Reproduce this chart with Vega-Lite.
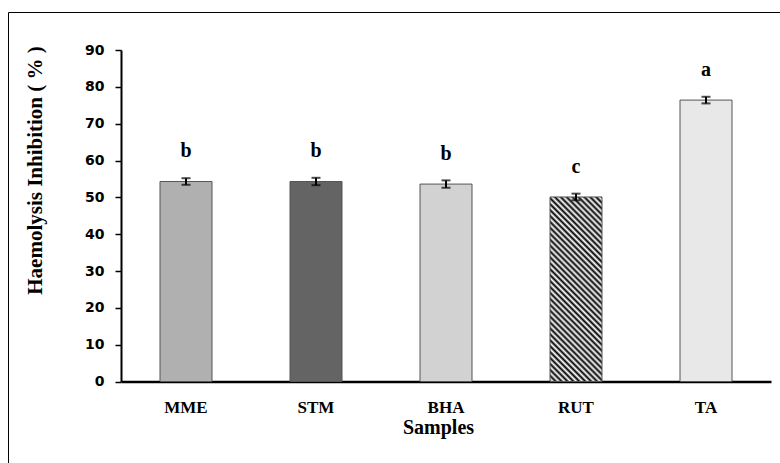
{
  "$schema": "https://vega.github.io/schema/vega-lite/v6.json",
  "width": 773,
  "height": 452,
  "autosize": {"type": "none"},
  "padding": {"left": 8, "top": 12, "right": -1, "bottom": -1},
  "background": "white",
  "config": {"view": {"stroke": "black", "strokeWidth": 1}},
  "data": {
    "values": [
      {"sample": "MME", "mean": 54.3, "sd": 0.9, "group": "b"},
      {"sample": "STM", "mean": 54.3, "sd": 1.0, "group": "b"},
      {"sample": "BHA", "mean": 53.6, "sd": 1.0, "group": "b"},
      {"sample": "RUT", "mean": 50.1, "sd": 0.9, "group": "c"},
      {"sample": "TA", "mean": 76.4, "sd": 0.9, "group": "a"}
    ]
  },
  "encoding": {
    "x": {
      "field": "sample",
      "type": "nominal",
      "sort": null,
      "scale": {"range": [113, 763], "paddingInner": 0.6, "paddingOuter": 0.3},
      "axis": {
        "title": "Samples",
        "offset": -82.5,
        "ticks": false,
        "tickSize": 0,
        "domainColor": "black",
        "domainWidth": 2.5,
        "labelAngle": 0,
        "labelFont": "Liberation Serif",
        "labelFontWeight": "bold",
        "labelFontSize": 17,
        "labelColor": "black",
        "labelPadding": 18,
        "titleFont": "Liberation Serif",
        "titleFontWeight": "bold",
        "titleFontSize": 20,
        "titleColor": "black",
        "titleBaseline": "alphabetic",
        "titleX": 430,
        "titleY": 52
      }
    },
    "y": {
      "field": "mean",
      "type": "quantitative",
      "scale": {"domain": [0, 90], "range": [369.5, 38], "nice": false, "zero": true},
      "axis": {
        "title": "Haemolysis Inhibition ( % )",
        "offset": -113,
        "values": [0, 10, 20, 30, 40, 50, 60, 70, 80, 90],
        "grid": false,
        "domainColor": "black",
        "domainWidth": 2,
        "tickColor": "black",
        "tickWidth": 1.5,
        "tickSize": 6,
        "labelFont": "DejaVu Sans",
        "labelFontWeight": "bold",
        "labelFontSize": 14,
        "labelColor": "black",
        "labelPadding": 11,
        "titleFont": "Liberation Serif",
        "titleFontWeight": "bold",
        "titleFontSize": 21,
        "titleColor": "black",
        "titleAngle": 270,
        "titleAlign": "center",
        "titleBaseline": "middle",
        "titleX": -86,
        "titleY": 158
      }
    }
  },
  "layer": [
    {
      "mark": {"type": "bar", "stroke": "#555555", "strokeWidth": 1},
      "encoding": {
        "fill": {
          "condition": {
            "test": "datum.sample === 'RUT'",
            "value": {
              "gradient": "linear",
              "x1": 0, "y1": 1, "x2": 0.3357, "y2": -0.1877,
              "stops": [
                {"offset": 0, "color": "#000000"}, {"offset": 0.0125, "color": "#ffffff"},
                {"offset": 0.025, "color": "#000000"}, {"offset": 0.0375, "color": "#ffffff"},
                {"offset": 0.05, "color": "#000000"}, {"offset": 0.0625, "color": "#ffffff"},
                {"offset": 0.075, "color": "#000000"}, {"offset": 0.0875, "color": "#ffffff"},
                {"offset": 0.1, "color": "#000000"}, {"offset": 0.1125, "color": "#ffffff"},
                {"offset": 0.125, "color": "#000000"}, {"offset": 0.1375, "color": "#ffffff"},
                {"offset": 0.15, "color": "#000000"}, {"offset": 0.1625, "color": "#ffffff"},
                {"offset": 0.175, "color": "#000000"}, {"offset": 0.1875, "color": "#ffffff"},
                {"offset": 0.2, "color": "#000000"}, {"offset": 0.2125, "color": "#ffffff"},
                {"offset": 0.225, "color": "#000000"}, {"offset": 0.2375, "color": "#ffffff"},
                {"offset": 0.25, "color": "#000000"}, {"offset": 0.2625, "color": "#ffffff"},
                {"offset": 0.275, "color": "#000000"}, {"offset": 0.2875, "color": "#ffffff"},
                {"offset": 0.3, "color": "#000000"}, {"offset": 0.3125, "color": "#ffffff"},
                {"offset": 0.325, "color": "#000000"}, {"offset": 0.3375, "color": "#ffffff"},
                {"offset": 0.35, "color": "#000000"}, {"offset": 0.3625, "color": "#ffffff"},
                {"offset": 0.375, "color": "#000000"}, {"offset": 0.3875, "color": "#ffffff"},
                {"offset": 0.4, "color": "#000000"}, {"offset": 0.4125, "color": "#ffffff"},
                {"offset": 0.425, "color": "#000000"}, {"offset": 0.4375, "color": "#ffffff"},
                {"offset": 0.45, "color": "#000000"}, {"offset": 0.4625, "color": "#ffffff"},
                {"offset": 0.475, "color": "#000000"}, {"offset": 0.4875, "color": "#ffffff"},
                {"offset": 0.5, "color": "#000000"}, {"offset": 0.5125, "color": "#ffffff"},
                {"offset": 0.525, "color": "#000000"}, {"offset": 0.5375, "color": "#ffffff"},
                {"offset": 0.55, "color": "#000000"}, {"offset": 0.5625, "color": "#ffffff"},
                {"offset": 0.575, "color": "#000000"}, {"offset": 0.5875, "color": "#ffffff"},
                {"offset": 0.6, "color": "#000000"}, {"offset": 0.6125, "color": "#ffffff"},
                {"offset": 0.625, "color": "#000000"}, {"offset": 0.6375, "color": "#ffffff"},
                {"offset": 0.65, "color": "#000000"}, {"offset": 0.6625, "color": "#ffffff"},
                {"offset": 0.675, "color": "#000000"}, {"offset": 0.6875, "color": "#ffffff"},
                {"offset": 0.7, "color": "#000000"}, {"offset": 0.7125, "color": "#ffffff"},
                {"offset": 0.725, "color": "#000000"}, {"offset": 0.7375, "color": "#ffffff"},
                {"offset": 0.75, "color": "#000000"}, {"offset": 0.7625, "color": "#ffffff"},
                {"offset": 0.775, "color": "#000000"}, {"offset": 0.7875, "color": "#ffffff"},
                {"offset": 0.8, "color": "#000000"}, {"offset": 0.8125, "color": "#ffffff"},
                {"offset": 0.825, "color": "#000000"}, {"offset": 0.8375, "color": "#ffffff"},
                {"offset": 0.85, "color": "#000000"}, {"offset": 0.8625, "color": "#ffffff"},
                {"offset": 0.875, "color": "#000000"}, {"offset": 0.8875, "color": "#ffffff"},
                {"offset": 0.9, "color": "#000000"}, {"offset": 0.9125, "color": "#ffffff"},
                {"offset": 0.925, "color": "#000000"}, {"offset": 0.9375, "color": "#ffffff"},
                {"offset": 0.95, "color": "#000000"}, {"offset": 0.9625, "color": "#ffffff"},
                {"offset": 0.975, "color": "#000000"}, {"offset": 0.9875, "color": "#ffffff"},
                {"offset": 1, "color": "#000000"}
              ]
            }
          },
          "field": "sample",
          "type": "nominal",
          "scale": {
            "domain": ["MME", "STM", "BHA", "RUT", "TA"],
            "range": ["#b0b0b0", "#646464", "#d2d2d2", "#888888", "#e8e8e8"]
          },
          "legend": null
        }
      }
    },
    {
      "mark": {
        "type": "errorbar",
        "color": "black",
        "ticks": {"size": 9, "thickness": 2, "color": "black"},
        "rule": {"strokeWidth": 2, "color": "black"}
      },
      "encoding": {
        "yError": {"field": "sd"}
      }
    },
    {
      "mark": {
        "type": "text",
        "dy": -24,
        "baseline": "alphabetic",
        "font": "Liberation Serif",
        "fontWeight": "bold",
        "fontSize": 20,
        "color": "black"
      },
      "encoding": {
        "text": {"field": "group"}
      }
    }
  ]
}
